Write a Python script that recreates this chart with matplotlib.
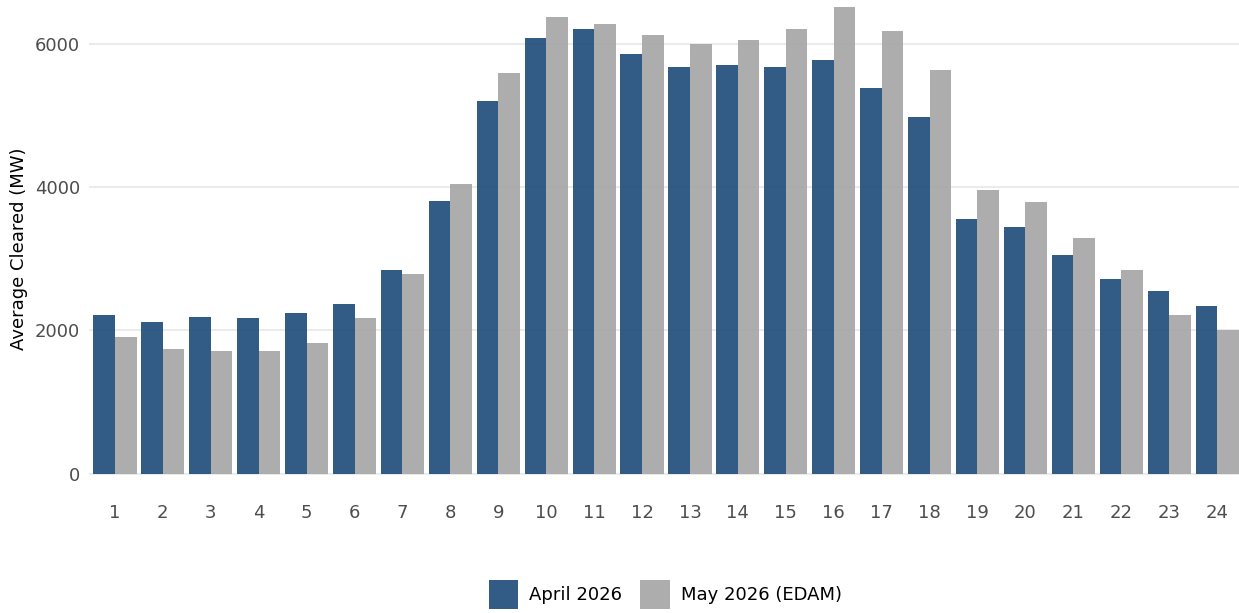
import matplotlib.pyplot as plt
import numpy as np

# hours of the day
hours = list(range(1, 25))

# average cleared MW per hour
april_2026 = [2220, 2125, 2195, 2180, 2250, 2375, 2850, 3810, 5210, 6090, 6215, 5865,
              5685, 5700, 5685, 5780, 5380, 4985, 3550, 3450, 3060, 2725, 2545, 2335]
may_2026 = [1910, 1745, 1720, 1720, 1830, 2180, 2795, 4050, 5590, 6370, 6285, 6130,
            6005, 6060, 6215, 6510, 6175, 5630, 3955, 3800, 3285, 2850, 2220, 2010]

series_names = ['April 2026', 'May 2026 (EDAM)']
colors = ['#1C4979', '#A4A4A4']

fig = plt.figure(figsize=(12.39, 6.13), dpi=100)
ax = fig.add_axes([0.0715, 0.1892, 0.9282, 0.8108])

x = np.array(hours)
w = 0.45
ax.bar(x - w / 2, april_2026, width=w, color=colors[0], alpha=0.9, label=series_names[0], zorder=2)
ax.bar(x + w / 2, may_2026, width=w, color=colors[1], alpha=0.9, label=series_names[1], zorder=2)

ax.set_xlim(0.45, 24.45)
ax.set_ylim(-325, 6614)
ax.set_xticks(hours)
ax.set_yticks([0, 2000, 4000, 6000])

# minimal theme
for s in ax.spines.values():
    s.set_visible(False)
ax.grid(axis='y', color='#EBEBEB', linewidth=1.5, zorder=0)
ax.tick_params(length=0, labelsize=13, labelcolor='#4D4D4D')
ax.tick_params(axis='x', pad=5)
ax.tick_params(axis='y', pad=6)

ax.set_ylabel('Average Cleared (MW)', fontsize=13, labelpad=5)

fig.legend(loc='center', bbox_to_anchor=(0.537, 0.03), ncol=2, frameon=False,
           fontsize=13, handlelength=1.66, handleheight=2.1, handletextpad=0.6,
           columnspacing=1.0)

fig.savefig('out.png', dpi=100)
